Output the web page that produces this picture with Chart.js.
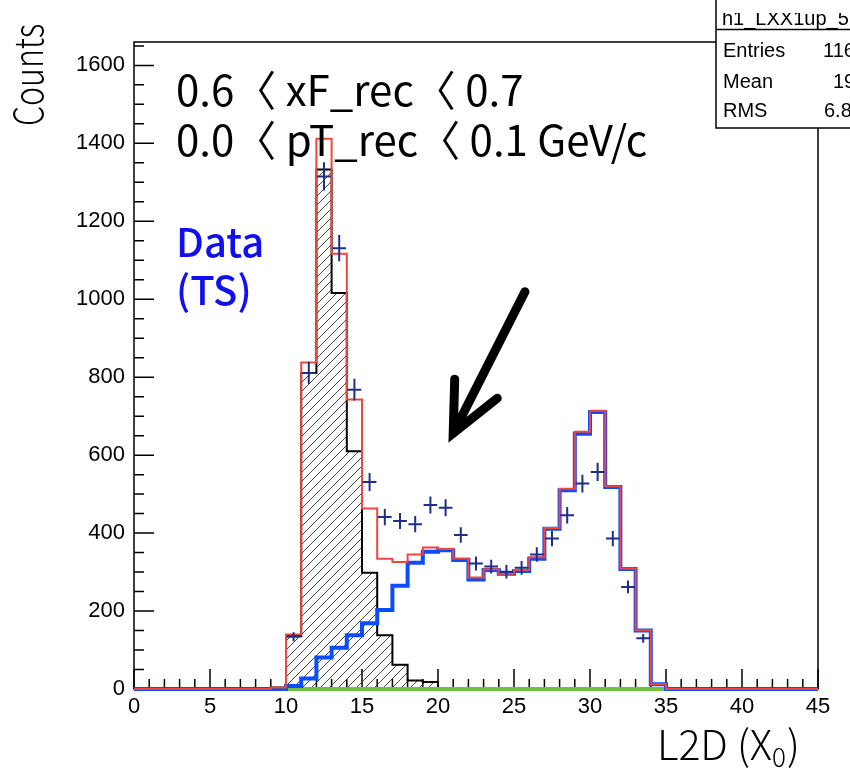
<!DOCTYPE html>
<html lang="en">
<head>
<meta charset="UTF-8">
<title>L2D distribution</title>
<script src="https://cdn.jsdelivr.net/npm/chart.js"></script>
<style>
  body { margin: 0; background: #fff; }
  #wrap { width: 850px; height: 768px; }
</style>
</head>
<body>
<div id="wrap"><canvas id="l2d" width="850" height="768"></canvas></div>
<script>
// histogram bins are 1 X0 wide over [0,45); values listed from bin [9,10) to [34,35), other bins empty
const firstBin = 9;
const nBins = 45;
const totalMC  = [4, 140, 838, 1412, 1117, 743, 463, 334, 326, 345, 363, 359, 335, 286, 307, 296, 305, 338, 413, 514, 660, 714, 520, 309, 151, 12];
const signalMC = [0, 8, 27, 81, 106, 138, 169, 203, 265, 324, 352, 356, 331, 281, 305, 296, 303, 334, 411, 510, 655, 711, 518, 308, 150, 12];
const bkgMC    = [4, 136, 811, 1333, 1016, 610, 298, 138, 62, 22, 18, 0, 0, 0, 0, 0, 0, 0, 0, 0, 0, 0, 0, 0, 0, 0];
const otherMC  = [0, 0, 0, 0, 0, 0, 0, 0, 0, 0, 0, 0, 0, 0, 0, 0, 0, 0, 0, 0, 0, 0, 0, 0, 0, 0];
const dataCounts = [0, 134, 811, 1315, 1131, 768, 531, 441, 431, 423, 472, 465, 395, 322, 314, 301, 311, 345, 386, 446, 527, 557, 386, 262, 130, 0];

const xTicks = [0, 5, 10, 15, 20, 25, 30, 35, 40, 45];
const yTicks = [0, 200, 400, 600, 800, 1000, 1200, 1400, 1600];
const yMax = 1660;

const statsTitle = 'h1_LXX1up_5';
const statsRows = [['Entries', '11632'], ['Mean', '19.44'], ['RMS', '6.841']];

// step outline: one point per bin edge, last edge repeats the last bin
function histPoints(vals) {
  const pts = [];
  for (let i = 0; i <= nBins; i++) {
    const k = Math.min(i, nBins - 1) - firstBin;
    pts.push({ x: i, y: (k >= 0 && k < vals.length) ? vals[k] : 0 });
  }
  return pts;
}

function dataPoints(vals) {
  const pts = [];
  vals.forEach((v, k) => { if (v > 0) pts.push({ x: firstBin + k + 0.5, y: v }); });
  return pts;
}

function hatchPattern() {
  const s = 9;
  const c = document.createElement('canvas');
  c.width = s; c.height = s;
  const g = c.getContext('2d');
  g.strokeStyle = '#333';
  g.lineWidth = 0.9;
  g.beginPath();
  g.moveTo(0, s); g.lineTo(s, 0);
  g.moveTo(-1, 1); g.lineTo(1, -1);
  g.moveTo(s - 1, s + 1); g.lineTo(s + 1, s - 1);
  g.stroke();
  return g.createPattern(c, 'repeat');
}

const CJK = '"Noto Sans CJK KR", "Noto Sans", sans-serif';

// data crosses: +-0.45 bin horizontally, sqrt(N) vertically
const crosses = {
  id: 'crosses',
  afterDatasetsDraw(chart) {
    const { ctx, scales: { x, y } } = chart;
    const ds = chart.data.datasets[0];
    ctx.save();
    ctx.strokeStyle = '#1f2f86';
    ctx.lineWidth = 2;
    ctx.beginPath();
    ds.data.forEach(p => {
      const e = Math.sqrt(p.y);
      const px = x.getPixelForValue(p.x), py = y.getPixelForValue(p.y);
      ctx.moveTo(x.getPixelForValue(p.x - 0.45), py);
      ctx.lineTo(x.getPixelForValue(p.x + 0.45), py);
      ctx.moveTo(px, y.getPixelForValue(p.y + e));
      ctx.lineTo(px, y.getPixelForValue(p.y - e));
    });
    ctx.stroke();
    ctx.restore();
  }
};

// frame and inward ticks go under the histograms
const frame = {
  id: 'frame',
  beforeDatasetsDraw(chart) {
    const { ctx, chartArea: a, scales: { x, y } } = chart;
    ctx.save();
    ctx.strokeStyle = '#000';
    ctx.lineWidth = 1.5;
    ctx.strokeRect(a.left, a.top, a.right - a.left, a.bottom - a.top);
    ctx.beginPath();
    for (let v = 0; v <= 45; v++) {
      const px = x.getPixelForValue(v);
      const len = xTicks.includes(v) ? 20 : 10;
      ctx.moveTo(px, a.bottom); ctx.lineTo(px, a.bottom - len);
    }
    for (let v = 0; v <= yMax; v += 50) {
      const py = y.getPixelForValue(v);
      const len = yTicks.includes(v) ? 20 : 10;
      ctx.moveTo(a.left, py); ctx.lineTo(a.left + len, py);
    }
    ctx.stroke();
    ctx.restore();
  }
};

// titles, cut labels, arrow and stats box
const decorations = {
  id: 'decorations',
  afterDraw(chart) {
    const { ctx, scales: { x, y } } = chart;
    ctx.save();
    ctx.fillStyle = '#000';
    ctx.font = '300 40px ' + CJK;
    ctx.textBaseline = 'alphabetic';
    ctx.textAlign = 'left';
    ctx.save();
    ctx.translate(43, 126);
    ctx.rotate(-Math.PI / 2);
    ctx.scale(0.8, 1);
    ctx.fillText('Counts', 0, 0);
    ctx.restore();

    ctx.save();
    ctx.translate(657, 760);
    ctx.font = '300 41px ' + CJK;
    ctx.fillText('L2D (X', 0, 0);
    let w = ctx.measureText('L2D (X').width;
    ctx.font = '300 26px ' + CJK;
    ctx.fillText('0', w, 7);
    w += ctx.measureText('0').width + 1;
    ctx.font = '300 41px ' + CJK;
    ctx.fillText(')', w, 0);
    ctx.restore();

    ctx.font = '42px ' + CJK;
    ctx.fillText('0.6〈 xF_rec〈 0.7', 176, 106);
    ctx.fillText('0.0〈 pT_rec〈 0.1 GeV/c', 176, 156);

    ctx.fillStyle = '#1010ee';
    ctx.font = '500 40px ' + CJK;
    ctx.fillText('Data', 176, 257);
    ctx.fillText('(TS)', 176, 305);

    // arrow pointing at the shoulder, placed in data coordinates
    const P = (vx, vy) => [x.getPixelForValue(vx), y.getPixelForValue(vy)];
    const tail = P(25.72, 1019), tip = P(21.0, 656), w1 = P(21.1, 795), w2 = P(23.9, 746);
    ctx.strokeStyle = '#000';
    ctx.lineWidth = 9;
    ctx.lineCap = 'round';
    ctx.lineJoin = 'miter';
    ctx.beginPath();
    ctx.moveTo(tail[0], tail[1]); ctx.lineTo(tip[0], tip[1]);
    ctx.moveTo(w1[0], w1[1]); ctx.lineTo(tip[0], tip[1]); ctx.lineTo(w2[0], w2[1]);
    ctx.stroke();

    // stats box
    ctx.lineCap = 'butt';
    ctx.lineWidth = 1.5;
    ctx.fillStyle = '#fff';
    ctx.fillRect(716, -2, 150, 130);
    ctx.strokeRect(716, -2, 150, 130);
    ctx.fillStyle = '#000';
    ctx.font = '20px "Liberation Sans", Arial, sans-serif';
    ctx.save();
    ctx.beginPath();
    ctx.rect(716, 13, 150, 16);
    ctx.clip();
    ctx.fillText(statsTitle, 722, 25);
    ctx.restore();
    ctx.beginPath();
    ctx.moveTo(716, 29.5); ctx.lineTo(866, 29.5);
    ctx.stroke();
    const rowY = [57, 88, 117];
    const valX = [823, 833, 824];
    statsRows.forEach((r, i) => {
      ctx.fillText(r[0], 723, rowY[i]);
      ctx.fillText(r[1], valX[i], rowY[i]);
    });
    ctx.restore();
  }
};

const tickFont = { family: '"Liberation Sans", Arial, sans-serif', size: 22 };
const ctx = document.getElementById('l2d').getContext('2d');

new Chart(ctx, {
  type: 'line',
  data: {
    datasets: [
      { label: 'Data', data: dataPoints(dataCounts), showLine: false, pointRadius: 0, order: 0 },
      { label: 'total', data: histPoints(totalMC), stepped: true, borderColor: '#f2463c', borderWidth: 2, pointRadius: 0, fill: false, clip: 8, order: 1 },
      { label: 'signal', data: histPoints(signalMC), stepped: true, borderColor: '#0a4cff', borderWidth: 4, pointRadius: 0, fill: false, clip: 8, order: 2 },
      { label: 'other', data: histPoints(otherMC), stepped: true, borderColor: '#6cc24a', borderWidth: 4, pointRadius: 0, fill: false, clip: 8, order: 3 },
      { label: 'background', data: histPoints(bkgMC), stepped: true, borderColor: '#000', borderWidth: 2, pointRadius: 0, fill: 'origin', backgroundColor: hatchPattern(), clip: 8, order: 4 }
    ]
  },
  options: {
    responsive: false,
    animation: false,
    layout: { padding: { top: 42, right: 32, left: 0, bottom: 0 } },
    plugins: { legend: { display: false }, tooltip: { enabled: false }, title: { display: false } },
    scales: {
      x: {
        type: 'linear', min: 0, max: 45,
        afterBuildTicks: s => { s.ticks = xTicks.map(v => ({ value: v })); },
        afterFit: s => { s.height = 79; },
        grid: { display: false },
        border: { display: false },
        ticks: { color: '#000', font: tickFont, padding: -3, autoSkip: false, maxRotation: 0, callback: v => String(v) }
      },
      y: {
        type: 'linear', min: 0, max: yMax,
        afterBuildTicks: s => { s.ticks = yTicks.map(v => ({ value: v })); },
        afterFit: s => { s.width = 134; },
        grid: { display: false },
        border: { display: false },
        ticks: { color: '#000', font: tickFont, padding: 1, callback: v => String(v) }
      }
    }
  },
  plugins: [frame, crosses, decorations]
});
</script>
</body>
</html>
